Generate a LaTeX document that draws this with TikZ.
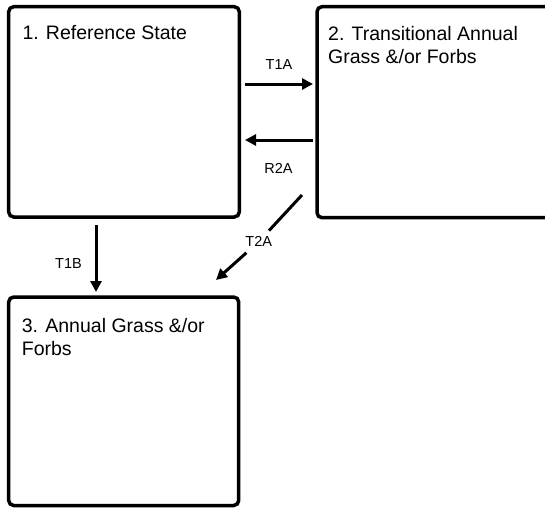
\documentclass[tikz,border=0pt]{standalone}
\usepackage{fontspec}
\setmainfont{Liberation Sans}
\usetikzlibrary{arrows.meta}

\begin{document}
\begin{tikzpicture}[x=1pt,y=-1pt,
  statebox/.style={draw, line width=3.5pt, rounded corners=5pt, anchor=north west,
    inner sep=0pt, outer sep=0pt},
  boxtext/.style={anchor=base west, inner sep=0pt, align=left,
    font=\fontsize{19.5}{23.5}\selectfont},
  trans/.style={line width=3pt, -{Triangle[length=11pt,width=11pt]}},
  translabel/.style={inner sep=0pt, font=\fontsize{14.5}{17}\selectfont}]
  \useasboundingbox (0,0) rectangle (545,509);
  \clip (0,0) rectangle (545,509);

  \node[statebox, minimum width=230.6pt, minimum height=210.3pt] (ref) at (8.7,6.7) {};
  \node[statebox, minimum width=243pt, minimum height=211pt] (transitional) at (317,6.7) {};
  \node[statebox, minimum width=230pt, minimum height=208.5pt] (annual) at (8.7,297) {};

  \node[boxtext] (ref-text) at (22.3,39) {1. Reference State};
  \node[boxtext] (transitional-text) at (328,63.5) {2. Transitional Annual\\Grass \&/or Forbs};
  \node[boxtext] (annual-text) at (21.7,355.5) {3. Annual Grass \&/or\\Forbs};

  \coordinate (t1a-from) at (245,84);
  \coordinate (t1a-to) at (313,84);
  \coordinate (r2a-from) at (313,140);
  \coordinate (r2a-to) at (245,140);
  \coordinate (t1b-from) at (96,225);
  \coordinate (t1b-to) at (96,292);
  \coordinate (t2a-from) at (302,195);
  \coordinate (t2a-to) at (216,280);

  \node[translabel] (t1a) at (279,65) {T1A};
  \node[translabel] (r2a) at (278.5,168) {R2A};
  \node[translabel] (t1b) at (68.5,264) {T1B};
  \node[translabel, inner sep=4pt, outer sep=2pt] (t2a) at (258.7,241.7) {T2A};

  \draw[trans] (t1a-from) -- (t1a-to);
  \draw[trans] (r2a-from) -- (r2a-to);
  \draw[trans] (t1b-from) -- (t1b-to);
  \draw[line width=3pt] (t2a-from) -- (t2a);
  \draw[trans] (t2a) -- (t2a-to);
\end{tikzpicture}
\end{document}
